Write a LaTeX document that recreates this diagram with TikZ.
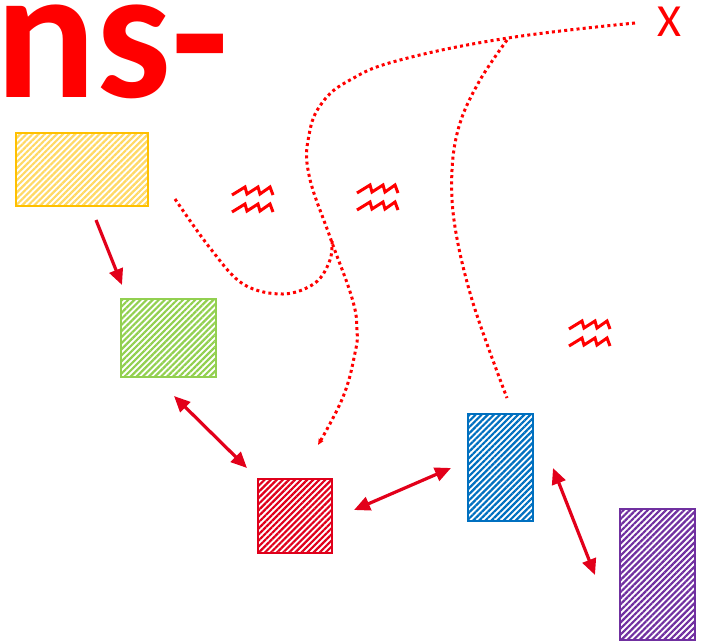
\documentclass[tikz,border=0pt]{standalone}
\usepackage{fontspec}
\setmainfont{Carlito}
\usetikzlibrary{arrows.meta,patterns.meta,calc}
\definecolor{cyel}{HTML}{FFC000}
\definecolor{cyelh}{HTML}{FFD966}
\definecolor{cgrn}{HTML}{92D050}
\definecolor{cred}{HTML}{E0001B}
\definecolor{cblu}{HTML}{0070C0}
\definecolor{cpur}{HTML}{7030A0}
\definecolor{carr}{HTML}{E2001A}
\definecolor{pure}{HTML}{FF0000}
\tikzset{
  hbox/.style n args={3}{draw=#1, line width=2.8pt, inner sep=0pt, outer sep=0pt,
    pattern={Lines[angle=45,distance=4.3pt,line width=2.2pt]}, pattern color=#2,
    minimum width=#3},
  conn/.style={draw=carr, line width=3.2pt, -{Triangle[length=16pt,width=14pt]}},
  dconn/.style={draw=carr, line width=3.2pt, {Triangle[length=16pt,width=14pt]}-{Triangle[length=16pt,width=14pt]}},
  dotc/.style={draw=pure, line width=3pt, dash pattern=on 3pt off 3.2pt},
  zz/.pic={
    \draw[pure, line width=3pt, line join=miter] (0,0)--(13,-8)--(15,-1)--(26,-8)--(28,-1)--(38,-8)--(41,0);
    \draw[pure, line width=3pt, line join=miter] (0,17)--(13,9)--(15,16)--(26,9)--(28,16)--(38,9)--(41,17);
  }
}
\begin{document}
\begin{tikzpicture}[x=1pt,y=-1pt]
\useasboundingbox (0,0) rectangle (702,641);
% title
\node[anchor=base west, inner sep=0pt, text=pure, text height=92pt, text depth=0pt, font=\fontsize{188}{188}\selectfont\bfseries] (title) at (0,97) {\kern-5pt ns-};
\node[inner sep=0pt, text=pure, font=\fontsize{46}{46}\selectfont] (xmark) at (669.5,22) {X};
% boxes
\node[hbox={cyel}{cyelh}{132pt}, minimum height=73pt] (yellow) at (82,169.5) {};
\node[hbox={cgrn}{cgrn}{95pt}, minimum height=78pt] (green) at (168.5,338) {};
\node[hbox={cred}{cred}{74pt}, minimum height=74pt] (red) at (295,516) {};
\node[hbox={cblu}{cblu}{65pt}, minimum height=107pt] (blue) at (500.5,467.5) {};
\node[hbox={cpur}{cpur}{75pt}, minimum height=131pt] (purple) at (657.5,574.5) {};
% arrows
\draw[conn] ($(yellow.south)+(14,14)$) -- ($(green.north)+(-46.5,-14)$);
\draw[dconn] ($(green.south east)+(-42,19)$) -- ($(red.north west)+(-11,-11)$);
\draw[dconn] ($(red.east)+(22,-6)$) -- ($(blue.west)+(-17,0.5)$);
\draw[dconn] ($(blue.east)+(20,0.5)$) -- ($(purple.west)+(-25,0.5)$);
% dotted curves
\draw[dotc, -{Triangle[length=6pt,width=5pt]}] plot[smooth, tension=0.7] coordinates {(635,23) (508,38) (400,60) (350,80) (322,103) (309,135) (309,175) (330,237) (352,298) (357,330) (355,353) (343,397) (318,445)};
\draw[dotc] plot[smooth, tension=0.6] coordinates {(175,199) (210,248) (243,284) (283,294) (315,283) (330,260) (332,238)};
\draw[dotc] plot[smooth, tension=0.6] coordinates {(507,40) (480,80) (460,123) (452,170) (455,227) (473,303) (507,398)};
% zigzags
\pic at (232,195) {zz};
\pic at (357,193) {zz};
\pic at (569,329) {zz};
\end{tikzpicture}
\end{document}
